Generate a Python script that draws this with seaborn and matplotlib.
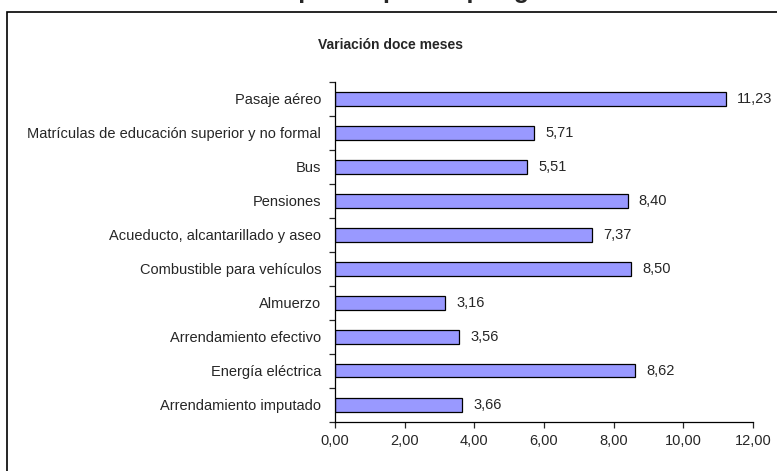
import matplotlib
matplotlib.use('Agg')
import matplotlib.pyplot as plt
import seaborn as sns
import pandas as pd
from matplotlib.patches import Rectangle

# Datos
gastos = ['Pasaje aéreo',
          'Matrículas de educación superior y no formal',
          'Bus',
          'Pensiones',
          'Acueducto, alcantarillado y aseo',
          'Combustible para vehículos',
          'Almuerzo',
          'Arrendamiento efectivo',
          'Energía eléctrica',
          'Arrendamiento imputado']
variacion = [11.23, 5.71, 5.51, 8.40, 7.37, 8.50, 3.16, 3.56, 8.62, 3.66]
x_ticks = [0, 2, 4, 6, 8, 10, 12]

df = pd.DataFrame({'gasto': gastos, 'variacion': variacion})

sns.set_style('white')
plt.rcParams['font.family'] = ['Liberation Sans', 'DejaVu Sans']

fig = plt.figure(figsize=(7.77, 4.71), dpi=100)
ax = fig.add_axes([335 / 777, 1 - 421.7 / 471, 418 / 777, 340 / 471])

sns.barplot(data=df, x='variacion', y='gasto', orient='h', color='#9999FF',
            edgecolor='black', linewidth=0.9, width=0.4, saturation=1, ax=ax)

# Etiquetas de valor con coma decimal
etiquetas = [f'{v:.2f}'.replace('.', ',') for v in variacion]
ax.bar_label(ax.containers[0], labels=etiquetas, padding=8, fontsize=10.5)

ax.set_xlim(0, 12)
ax.set_ylim(len(gastos) - 0.5, -0.5)
ax.set_xticks(x_ticks)
ax.set_xticklabels([f'{t:.2f}'.replace('.', ',') for t in x_ticks], fontsize=10.5)
ax.set_yticks(range(len(gastos)))
ax.set_yticklabels(gastos, fontsize=10.5)
ax.set_yticks([i - 0.5 for i in range(len(gastos) + 1)], minor=True)
ax.tick_params(axis='y', which='major', length=0, pad=10)
ax.tick_params(axis='y', which='minor', length=4, width=0.9, direction='out', left=True)
ax.tick_params(axis='x', length=4, width=0.9, direction='out', bottom=True, pad=5)
ax.set_xlabel('')
ax.set_ylabel('')
for lado in ['top', 'right']:
    ax.spines[lado].set_visible(False)
for lado in ['left', 'bottom']:
    ax.spines[lado].set_color('black')
    ax.spines[lado].set_linewidth(0.9)

# Marco del área del gráfico
fig.patches.append(Rectangle((7 / 777, -0.1), 1.2, 1.1 - 12 / 471, transform=fig.transFigure,
                             fill=False, edgecolor='black', linewidth=1.2))

fig.text(391 / 777, 1 - 45 / 471, 'Variación doce meses', ha='center', va='center',
         fontsize=10, fontweight='bold')
# Título principal (recortado en la parte superior, como en el original)
fig.text(405 / 777, 1 + 2 / 471, 'Principales aportes por gasto', ha='center',
         va='baseline', fontsize=18, fontweight='bold')

fig.savefig('out.png', dpi=100)
